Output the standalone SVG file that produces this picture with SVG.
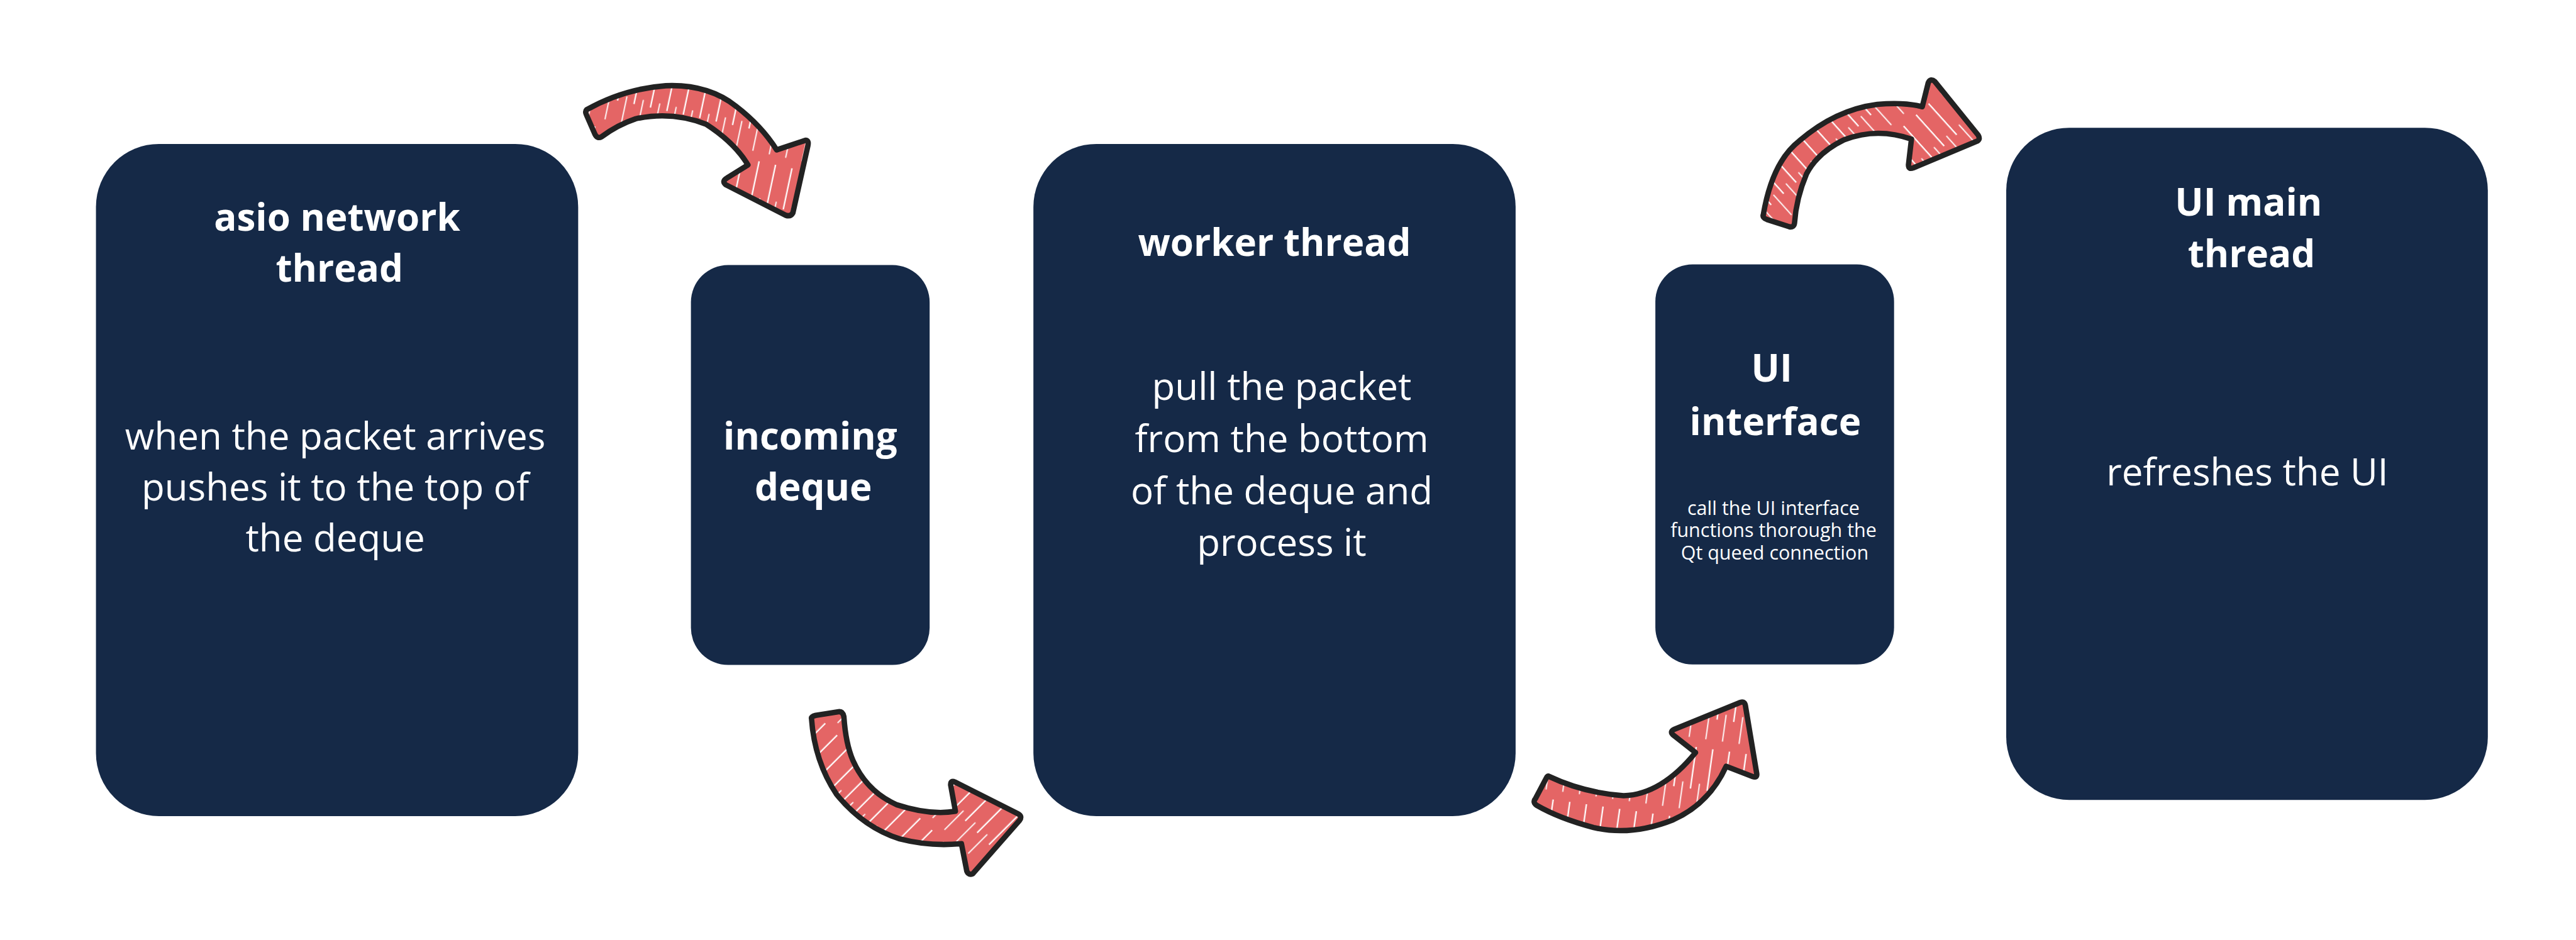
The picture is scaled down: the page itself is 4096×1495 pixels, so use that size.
<svg xmlns="http://www.w3.org/2000/svg" width="4096" height="1495" viewBox="0 0 4096 1495">
<style>
.box{fill:#152947}
.t{font-family:"Open Sans","Liberation Sans",sans-serif;fill:#ffffff;text-anchor:middle}
.b{font-weight:700;font-size:63px}
.r{font-weight:400;font-size:63px}
.s{font-weight:400;font-size:32px}
.arr{stroke:#222222;stroke-width:9;stroke-linejoin:round}
</style>
<defs>
<pattern id="hatch" patternUnits="userSpaceOnUse" width="28" height="120">
<rect width="28" height="120" fill="#e46565"/>
<path d="M6 0V120" stroke="#ffffff" stroke-width="2.4" stroke-dasharray="70 50" fill="none"/>
<path d="M20 0V120" stroke="#ffffff" stroke-width="2" stroke-dasharray="45 75" stroke-dashoffset="-60" fill="none"/>
</pattern>
<pattern id="h1" href="#hatch" patternTransform="rotate(12)"/>
<pattern id="h2" href="#hatch" patternTransform="rotate(45)"/>
<pattern id="h3" href="#hatch" patternTransform="rotate(8)"/>
<pattern id="h4" href="#hatch" patternTransform="rotate(-42)"/>
</defs>
<rect width="4096" height="1495" fill="#ffffff"/>
<g transform="scale(0.95367)">
<g id="node-asio">
<rect class="box" x="160" y="240" width="804" height="1121" rx="105"/>
<text class="t b" x="562" y="385">asio network</text>
<text class="t b" x="566" y="470">thread</text>
<text class="t r" x="559" y="750">when the packet arrives</text>
<text class="t r" x="559" y="835">pushes it to the top of</text>
<text class="t r" x="559" y="920">the deque</text>
</g>
<g id="node-deque">
<rect class="box" x="1152" y="442" width="398" height="667" rx="62"/>
<text class="t b" x="1351" y="750">incoming</text>
<text class="t b" x="1356" y="835">deque</text>
</g>
<g id="node-worker">
<rect class="box" x="1723" y="240" width="804" height="1121" rx="105"/>
<text class="t b" x="2125" y="427">worker thread</text>
<text class="t r" x="2137" y="667">pull the packet</text>
<text class="t r" x="2137" y="754">from the bottom</text>
<text class="t r" x="2137" y="841">of the deque and</text>
<text class="t r" x="2137" y="927">process it</text>
</g>
<g id="node-uiif">
<rect class="box" x="2760" y="441" width="398" height="667" rx="62"/>
<text class="t b" x="2954" y="637">UI</text>
<text class="t b" x="2960" y="726">interface</text>
<text class="t s" x="2957" y="859">call the UI interface</text>
<text class="t s" x="2957" y="896">functions thorough the</text>
<text class="t s" x="2959" y="933">Qt queed connection</text>
</g>
<g id="node-uimain">
<rect class="box" x="3345" y="213" width="803" height="1121" rx="105"/>
<text class="t b" x="3749" y="360">UI main</text>
<text class="t b" x="3754" y="446">thread</text>
<text class="t r" x="3747" y="810">refreshes the UI</text>
</g>
<g id="connectors">
<path id="arrow1" class="arr" fill="url(#h1)" d="M978 183 Q1040 148 1110 143 Q1180 140 1227 177 Q1270 210 1295 250 L1343 234 Q1349 234 1347 243 L1322 355 Q1318 362 1310 359 L1210 308 Q1203 302 1212 297 L1247 275 Q1225 238 1177 207 Q1120 185 1060 198 Q1030 208 1003 228 Q996 232 992 224 L978 192 Q975 186 978 183 Z"/>
<path id="arrow2" class="arr" fill="url(#h2)" d="M1353 1198 Q1358 1270 1395 1325 Q1440 1380 1500 1399 Q1550 1412 1603 1407 L1612 1453 Q1615 1460 1622 1457 L1700 1368 Q1705 1361 1697 1357 L1592 1304 Q1585 1301 1585 1309 L1593 1353 Q1550 1360 1495 1342 Q1445 1320 1422 1268 Q1410 1240 1407 1195 Q1405 1186 1398 1187 L1360 1193 Q1352 1195 1353 1198 Z"/>
<path id="arrow3" class="arr" fill="url(#h3)" d="M2583 1295 Q2640 1322 2707 1327 Q2770 1325 2827 1255 L2790 1226 Q2783 1220 2792 1216 L2900 1172 Q2908 1168 2910 1176 L2929 1290 Q2930 1298 2922 1295 L2878 1278 Q2850 1340 2790 1367 Q2720 1395 2657 1380 Q2600 1365 2562 1343 Q2555 1338 2560 1332 L2578 1298 Q2580 1293 2583 1295 Z"/>
<path id="arrow4" class="arr" fill="url(#h4)" d="M2940 358 Q2955 270 3000 235 Q3060 183 3130 174 Q3175 170 3205 178 L3215 138 Q3219 130 3226 136 L3298 225 Q3303 233 3295 236 L3190 280 Q3182 283 3182 275 L3187 232 Q3130 212 3075 233 Q3030 255 3012 290 Q2995 330 2992 372 Q2991 380 2983 378 L2946 366 Q2938 363 2940 358 Z"/>
</g>
</g>
</svg>
